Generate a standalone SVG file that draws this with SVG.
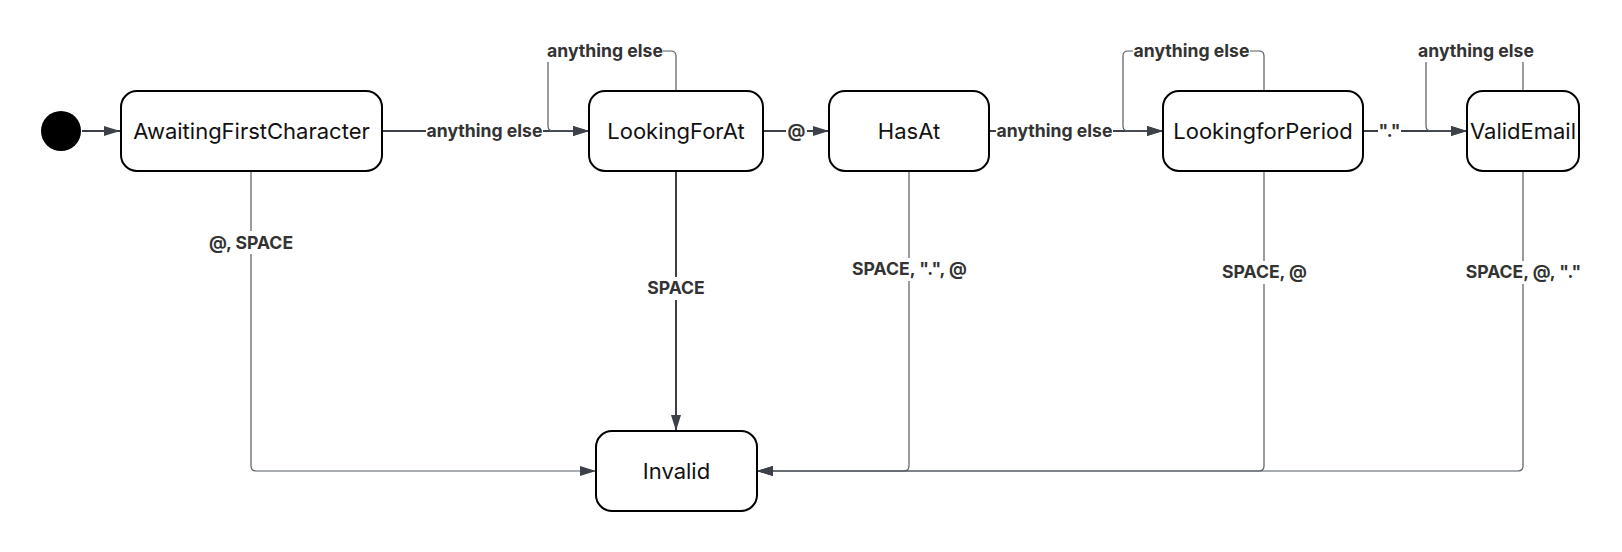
<svg xmlns="http://www.w3.org/2000/svg" width="1622" height="552" viewBox="0 0 1622 552">
<style>
.node rect{fill:#fff;stroke:#000;stroke-width:2}
.node text{font-family:Inter,"Noto Sans",sans-serif;font-size:22px;fill:#111;text-anchor:middle}
.e{fill:none;stroke:#3b4049}
.thick{stroke-width:2}
.thin{stroke-width:1.2;stroke:#555a63}
.lbl rect{fill:#fff}
.lbl text{font-family:Inter,"Noto Sans",sans-serif;font-size:17.6px;font-weight:700;fill:#333;text-anchor:middle}
</style>
<defs>
<marker id="arr" markerUnits="userSpaceOnUse" viewBox="0 0 16 10" markerWidth="16" markerHeight="10" refX="16" refY="5" orient="auto">
<path d="M0,0 L16,5 L0,10 z" fill="#3b4049"/>
</marker>
</defs>
<g id="connectors">
<path class="e thick" d="M82,131 H120" marker-end="url(#arr)"/>
<path class="e thick" d="M382,131 H589" marker-end="url(#arr)"/>
<path class="e thin" d="M676,91 V56 Q676,51 671,51 H553 Q548,51 548,56 V126 Q548,131 553,131 H589" marker-end="url(#arr)"/>
<path class="e thick" d="M763,131 H829" marker-end="url(#arr)"/>
<path class="e thick" d="M989,131 H1163" marker-end="url(#arr)"/>
<path class="e thin" d="M1264,91 V56 Q1264,51 1259,51 H1128 Q1123,51 1123,56 V126 Q1123,131 1128,131 H1163" marker-end="url(#arr)"/>
<path class="e thick" d="M1363,131 H1467" marker-end="url(#arr)"/>
<path class="e thin" d="M1523,91 V56 Q1523,51 1518,51 H1431 Q1426,51 1426,56 V126 Q1426,131 1431,131 H1467" marker-end="url(#arr)"/>
<path class="e thin" d="M251,171 V466 Q251,471 256,471 H596" marker-end="url(#arr)"/>
<path class="e thick" d="M676,171 V431" marker-end="url(#arr)"/>
<path class="e thin" d="M909,171 V466 Q909,471 904,471 H757" marker-end="url(#arr)"/>
<path class="e thin" d="M1264,171 V466 Q1264,471 1259,471 H757" marker-end="url(#arr)"/>
<path class="e thin" d="M1523,171 V466 Q1523,471 1518,471 H757" marker-end="url(#arr)"/>
<g class="lbl">
<rect x="426" y="120" width="117" height="22"/><text x="484.5" y="131" dy="0.36em">anything else</text>
<rect x="547" y="40" width="116" height="22"/><text x="605" y="51" dy="0.36em">anything else</text>
<rect x="786" y="120" width="21" height="22"/><text x="796.5" y="131" dy="0.36em">@</text>
<rect x="996" y="120" width="117" height="22"/><text x="1054.5" y="131" dy="0.36em">anything else</text>
<rect x="1133" y="40" width="117" height="22"/><text x="1191.5" y="51" dy="0.36em">anything else</text>
<rect x="1378" y="120" width="23" height="22"/><text x="1389.5" y="131" dy="0.36em">"."</text>
<rect x="1417" y="40" width="118" height="22"/><text x="1476" y="51" dy="0.36em">anything else</text>
<rect x="207" y="231" width="88" height="23"/><text x="251" y="243" dy="0.36em">@, SPACE</text>
<rect x="646" y="277" width="60" height="23"/><text x="676" y="288" dy="0.36em">SPACE</text>
<rect x="851" y="258" width="118" height="23"/><text x="909.5" y="269" dy="0.36em">SPACE, ".", @</text>
<rect x="1221" y="261" width="88" height="23"/><text x="1264.5" y="272" dy="0.36em">SPACE, @</text>
<rect x="1464" y="261" width="120" height="23"/><text x="1523.5" y="272" dy="0.36em">SPACE, @, "."</text>
</g>
</g>
<g id="start"><circle cx="61" cy="131" r="20" fill="#000"/></g>
<g id="AwaitingFirstCharacter" class="node"><rect x="121" y="91" width="261" height="80" rx="16"/><text x="251.5" y="131" dy="0.36em">AwaitingFirstCharacter</text></g>
<g id="LookingForAt" class="node"><rect x="589" y="91" width="174" height="80" rx="16"/><text x="676" y="131" dy="0.36em">LookingForAt</text></g>
<g id="HasAt" class="node"><rect x="829" y="91" width="160" height="80" rx="16"/><text x="909" y="131" dy="0.36em">HasAt</text></g>
<g id="LookingforPeriod" class="node"><rect x="1163" y="91" width="200" height="80" rx="16"/><text x="1263" y="131" dy="0.36em">LookingforPeriod</text></g>
<g id="ValidEmail" class="node"><rect x="1467" y="91" width="112" height="80" rx="16"/><text x="1523" y="131" dy="0.36em">ValidEmail</text></g>
<g id="Invalid" class="node"><rect x="596" y="431" width="161" height="80" rx="16"/><text x="676.5" y="471" dy="0.36em">Invalid</text></g>
</svg>
